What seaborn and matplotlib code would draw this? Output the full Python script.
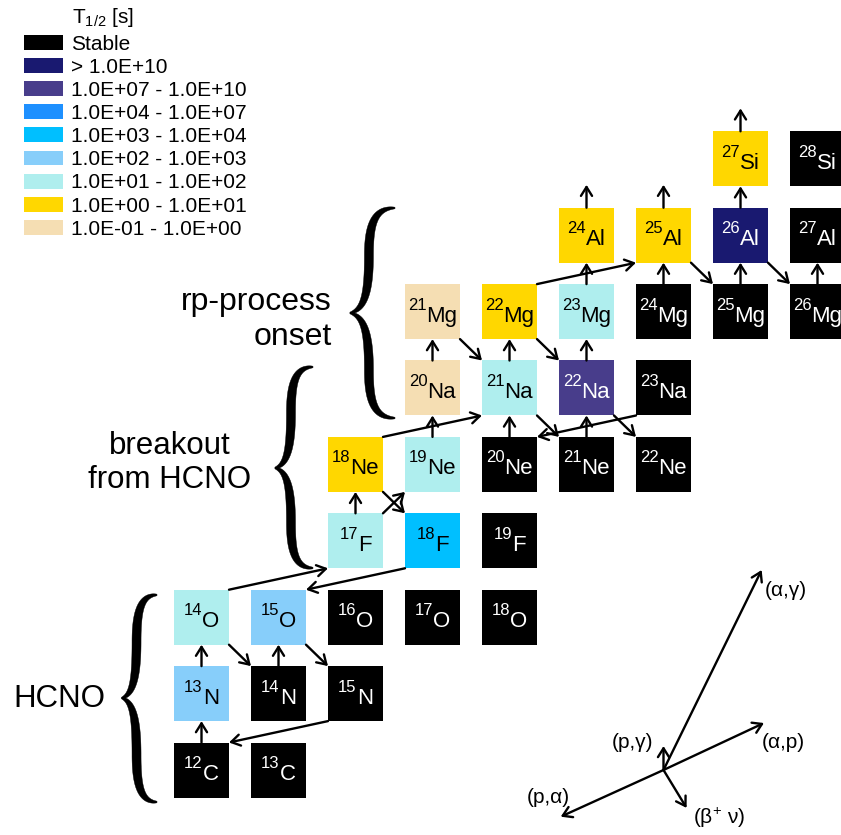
import numpy as np
import pandas as pd
import matplotlib
matplotlib.use("Agg")
import matplotlib.pyplot as plt
from matplotlib.patches import Patch, Polygon
import seaborn as sns

# ---------------- data ----------------
elements = {6: "C", 7: "N", 8: "O", 9: "F", 10: "Ne", 11: "Na", 12: "Mg", 13: "Al", 14: "Si"}
nuc_Z = [6, 6, 7, 7, 7, 8, 8, 8, 8, 8, 9, 9, 9, 10, 10, 10, 10, 10,
         11, 11, 11, 11, 12, 12, 12, 12, 12, 12, 13, 13, 13, 13, 14, 14]
nuc_A = [12, 13, 13, 14, 15, 14, 15, 16, 17, 18, 17, 18, 19, 18, 19, 20, 21, 22,
         20, 21, 22, 23, 21, 22, 23, 24, 25, 26, 24, 25, 26, 27, 27, 28]
nuc_class = ["Stable", "Stable", "1.0E+02 - 1.0E+03", "Stable", "Stable",
             "1.0E+01 - 1.0E+02", "1.0E+02 - 1.0E+03", "Stable", "Stable", "Stable",
             "1.0E+01 - 1.0E+02", "1.0E+03 - 1.0E+04", "Stable",
             "1.0E+00 - 1.0E+01", "1.0E+01 - 1.0E+02", "Stable", "Stable", "Stable",
             "1.0E-01 - 1.0E+00", "1.0E+01 - 1.0E+02", "1.0E+07 - 1.0E+10", "Stable",
             "1.0E-01 - 1.0E+00", "1.0E+00 - 1.0E+01", "1.0E+01 - 1.0E+02", "Stable", "Stable", "Stable",
             "1.0E+00 - 1.0E+01", "1.0E+00 - 1.0E+01", "> 1.0E+10", "Stable",
             "1.0E+00 - 1.0E+01", "Stable"]

legend_labels = ["Stable", "> 1.0E+10", "1.0E+07 - 1.0E+10", "1.0E+04 - 1.0E+07",
                 "1.0E+03 - 1.0E+04", "1.0E+02 - 1.0E+03", "1.0E+01 - 1.0E+02",
                 "1.0E+00 - 1.0E+01", "1.0E-01 - 1.0E+00"]
legend_colors = ["#000000", "#191970", "#483D8B", "#1E90FF", "#00BFFF",
                 "#87CEFA", "#AFEEEE", "#FFD700", "#F5DEB3"]
dark_classes = ["Stable", "> 1.0E+10", "1.0E+07 - 1.0E+10"]

arrow_src = ["12C", "13N", "14O", "14N", "15O", "15N", "14O", "18F", "17F", "18Ne",
             "17F", "18Ne", "19Ne", "20Ne", "20Na", "21Mg", "21Na", "21Na", "22Mg",
             "22Mg", "21Ne", "22Na", "22Na", "23Na", "23Mg", "24Mg", "25Al", "25Mg",
             "26Al", "26Al", "26Mg", "24Al", "25Al", "27Si"]
arrow_dst = ["13N", "14O", "14N", "15O", "15N", "12C", "17F", "15O", "18Ne", "18F",
             "19Ne", "21Na", "20Na", "21Na", "21Mg", "21Na", "22Mg", "21Ne", "22Na",
             "25Al", "22Na", "23Mg", "22Ne", "20Ne", "24Al", "25Al", "25Mg", "26Al",
             "27Si", "26Mg", "27Al", None, None, None]

key_labels = ["(\u03b1,\u03b3)", "(\u03b1,p)", "(p,\u03b3)", "(p,\u03b1)", "(\u03b2$^{+}$ \u03bd)"]
key_dN = [1.275, 1.305, 0.0, -1.335, 0.30]
key_dZ = [2.618, 0.615, 0.314, -0.611, -0.497]

# ---------------- layout ----------------
PX_N, PX_Z = 77.0, 76.4          # pixels per unit N / Z
H_N, H_Z = 27.5 / PX_N, 27.5 / PX_Z  # half box size in data units

df = pd.DataFrame({"Z": nuc_Z, "A": nuc_A, "cls": nuc_class})
df["N"] = df["A"] - df["Z"]
df["name"] = df["A"].astype(str) + df["Z"].map(elements)
pos = dict(zip(df["name"], zip(df["N"], df["Z"])))

sns.set_theme(style="white")
plt.rcParams["font.family"] = ["Liberation Sans", "DejaVu Sans"]
plt.rcParams["text.color"] = "black"
plt.rcParams["mathtext.fontset"] = "custom"
plt.rcParams["mathtext.rm"] = "Liberation Sans"
plt.rcParams["mathtext.it"] = "Liberation Sans:italic"
plt.rcParams["mathtext.bf"] = "Liberation Sans:bold"

fig = plt.figure(figsize=(8.41, 8.35), dpi=100)
ax = fig.add_axes([0, 0, 1, 1])
ax.set_xlim(6 - 201.5 / PX_N, 6 + (841 - 201.5) / PX_N)
ax.set_ylim(6 - (835 - 770) / PX_Z, 6 + 770 / PX_Z)
ax.set_axis_off()

palette = dict(zip(legend_labels, legend_colors))
box_pts = 55 * 72 / 100.0
sns.scatterplot(data=df, x="N", y="Z", hue="cls", palette=palette, marker="s",
                s=box_pts ** 2, linewidth=0, legend=False, ax=ax, zorder=2)

# nuclide labels: superscript mass number + element symbol, centred as a group
renderer = fig.canvas.get_renderer()
PT = 72 / 100.0  # points per pixel
for r in df.itertuples():
    col = "white" if r.cls in dark_classes else "black"
    sup = ax.annotate(str(r.A), xy=(r.N, r.Z), xytext=(0, 0), textcoords="offset points",
                      ha="left", va="baseline", fontsize=12, color=col, zorder=3)
    sym = ax.annotate(elements[r.Z], xy=(r.N, r.Z), xytext=(0, 0), textcoords="offset points",
                      ha="left", va="baseline", fontsize=16, color=col, zorder=3)
    w1 = sup.get_window_extent(renderer).width
    w2 = sym.get_window_extent(renderer).width
    x0 = -(w1 + w2) / 2.0
    base = -10.0
    sup.set_position((x0 * PT, (base + 12.0) * PT))
    sym.set_position(((x0 + w1) * PT, base * PT))

arrow_kw = dict(arrowstyle="->,head_length=0.32,head_width=0.2", lw=1.7,
                color="black", shrinkA=0, shrinkB=0, mutation_scale=20)
for s, d in zip(arrow_src, arrow_dst):
    n0, z0 = pos[s]
    if d is None:
        start = (n0, z0 + H_Z)
        end = (n0, z0 + H_Z + 0.30)
    else:
        n1, z1 = pos[d]
        sn, sz = np.sign(n1 - n0), np.sign(z1 - z0)
        start = (n0 + sn * H_N, z0 + sz * H_Z)
        end = (n1 - sn * H_N, z1 - sz * H_Z)
    ax.annotate("", xy=end, xytext=start, arrowprops=arrow_kw, zorder=4)

# reaction key
key_origin = (12.0, 6.0)
key_text_pos = [(13.318, 8.356, "left"), (13.279, 6.366, "left"), (11.864, 6.366, "right"),
                (10.227, 5.634, "left"), (12.383, 5.372, "left")]
for lab, dn, dz, (tx, ty, ha) in zip(key_labels, key_dN, key_dZ, key_text_pos):
    ax.annotate("", xy=(key_origin[0] + dn, key_origin[1] + dz), xytext=key_origin,
                arrowprops=arrow_kw)
    ax.text(tx, ty, lab, ha=ha, va="center", fontsize=15, color="black")


# braces
def cubic(p0, p1, p2, p3, t):
    t = t[:, None]
    return ((1 - t) ** 3) * p0 + 3 * ((1 - t) ** 2) * t * p1 + 3 * (1 - t) * t ** 2 * p2 + t ** 3 * p3


def brace(ax, x_tip, x_right, y_bot, y_top, y_tip, wmax=9.0, w0=1.5):
    t = np.linspace(0, 1, 80)
    a = cubic(np.array([1.0, 1.0]), np.array([0.55, 1.0]), np.array([0.42, 0.85]),
              np.array([0.42, 0.55]), t)
    b = cubic(np.array([0.42, 0.55]), np.array([0.42, 0.2]), np.array([0.32, 0.03]),
              np.array([0.0, 0.0]), t)
    half = np.vstack([a, b[1:]])
    tt = np.linspace(0, 1, len(half))
    w = w0 + (wmax - w0) * np.sin(np.pi * tt) ** 0.8
    for top in (True, False):
        yext = (y_top - y_tip) if top else (y_bot - y_tip)
        px = (x_tip + half[:, 0] * (x_right - x_tip)) * PX_N
        py = (y_tip + half[:, 1] * yext) * PX_Z
        dx, dy = np.gradient(px), np.gradient(py)
        L = np.hypot(dx, dy)
        nx, ny = -dy / L, dx / L
        left = np.c_[px + nx * w / 2, py + ny * w / 2]
        right = np.c_[px - nx * w / 2, py - ny * w / 2]
        poly = np.vstack([left, right[::-1]])
        poly[:, 0] /= PX_N
        poly[:, 1] /= PX_Z
        ax.add_patch(Polygon(poly, closed=True, facecolor="black", edgecolor="black", lw=0.3))


brace(ax, 4.964, 5.422, 5.581, 8.291, 6.942)
brace(ax, 6.955, 7.448, 8.644, 11.275, 9.953)
brace(ax, 7.929, 8.513, 10.607, 13.356, 11.982)

ax.text(7.695, 11.90, "rp-process\nonset", ha="right", va="center", fontsize=23,
        multialignment="right", linespacing=1.2, color="black")
ax.text(5.591, 10.018, "breakout\nfrom HCNO", ha="center", va="center", fontsize=22.5,
        multialignment="center", linespacing=1.15, color="black")
ax.text(3.552, 6.929, "HCNO", ha="left", va="center", fontsize=22.5, color="black")

# legend
handles = [Patch(facecolor=c, edgecolor="none", label=l) for l, c in zip(legend_labels, legend_colors)]
leg = ax.legend(handles=handles, loc="upper left", bbox_to_anchor=(24 / 841, 1 - 34.5 / 835),
                bbox_transform=fig.transFigure, frameon=False, fontsize=15,
                handlelength=1.875, handleheight=0.72, handletextpad=0.38,
                labelspacing=0.2, borderpad=0, borderaxespad=0, labelcolor="black")
fig.text(72 / 841, 1 - 23 / 835, "T$_{1/2}$ [s]", ha="left", va="baseline", fontsize=15,
         color="black")

fig.savefig("out.png", dpi=100)
